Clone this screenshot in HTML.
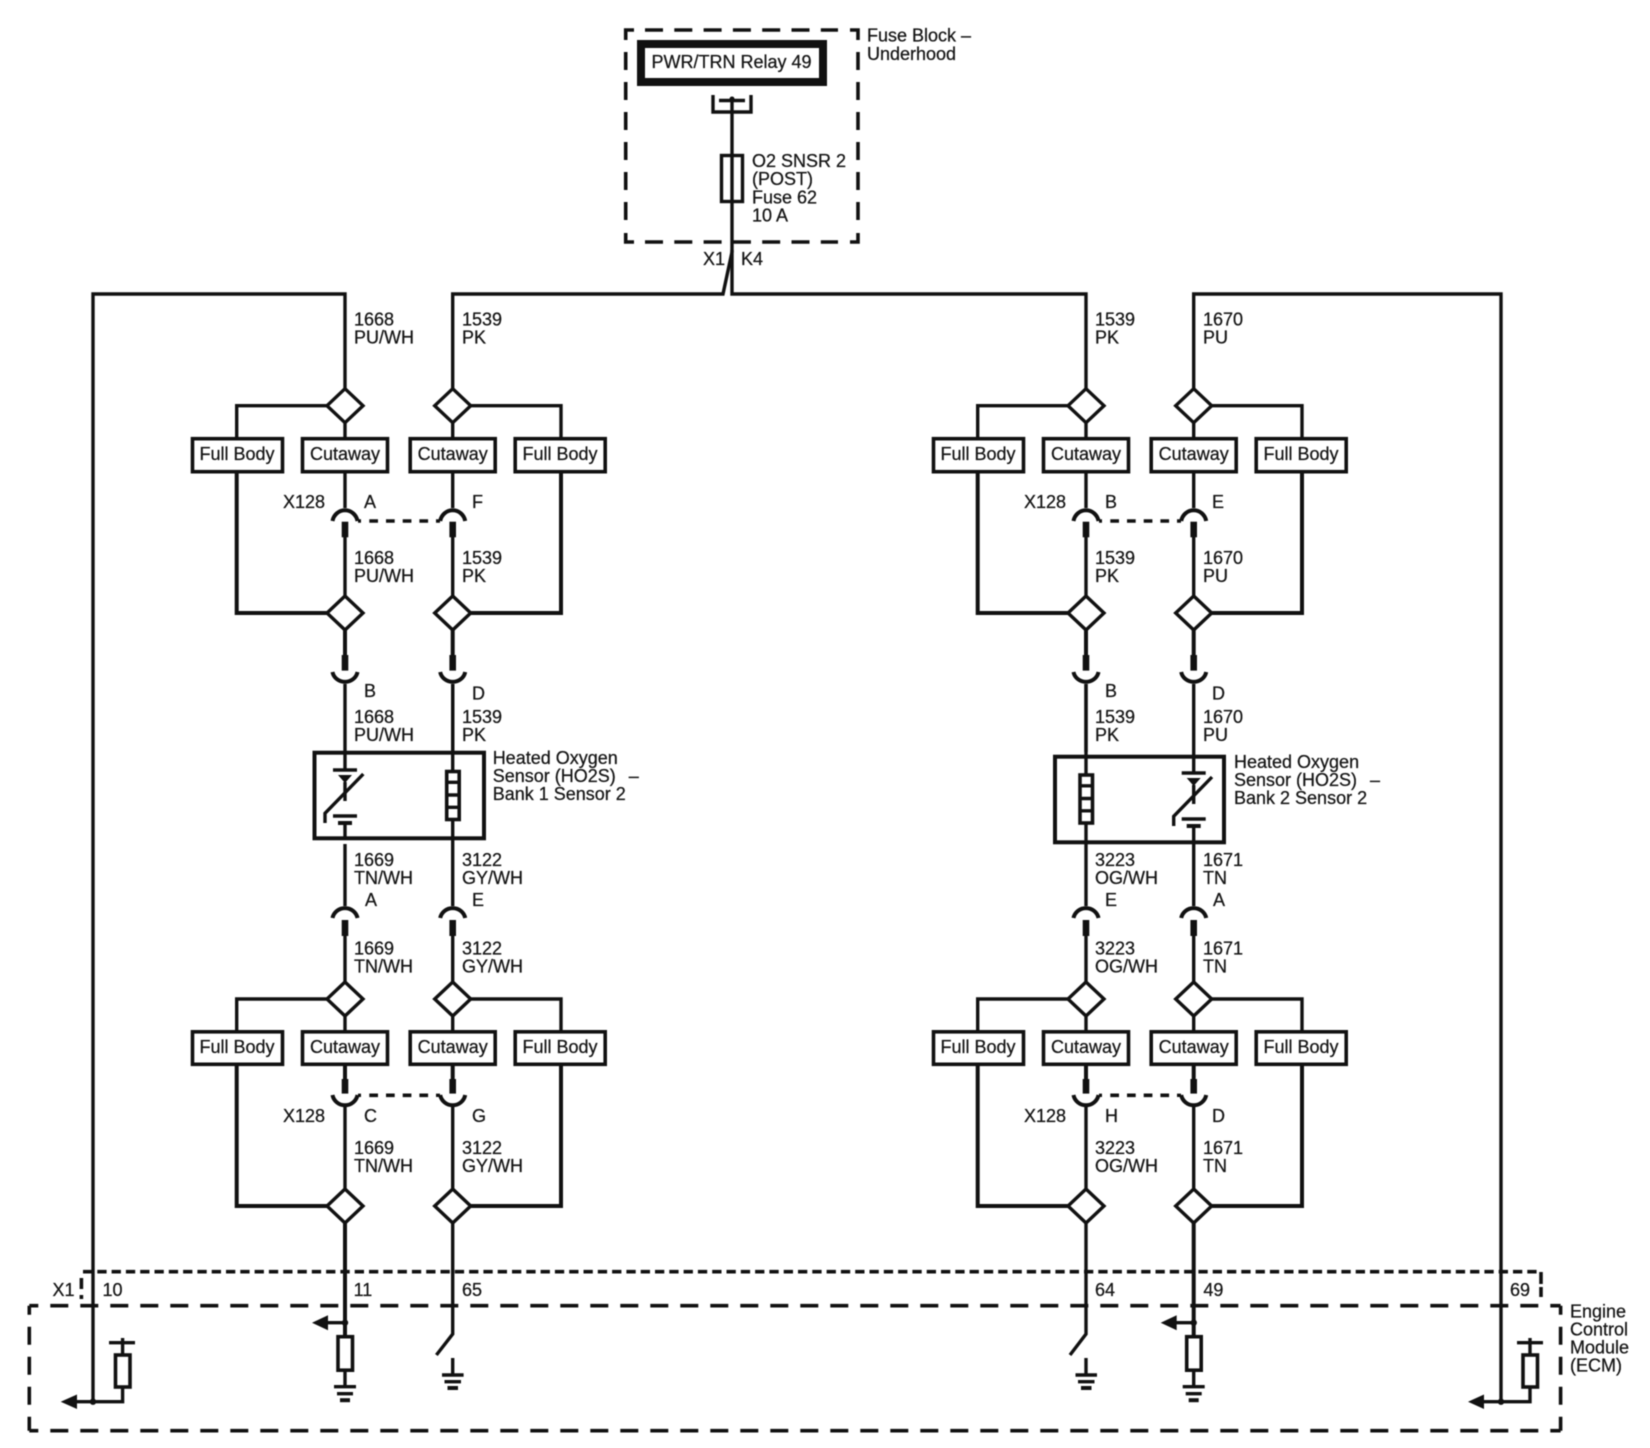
<!DOCTYPE html>
<html><head><meta charset="utf-8">
<style>
html,body{margin:0;padding:0;background:#fff;width:1650px;height:1448px;overflow:hidden}
svg{display:block;filter:blur(0.65px)}
text{font-family:"Liberation Sans",Arial,sans-serif;font-size:18px;fill:#151515;stroke:#151515;stroke-width:0.25}
.w{fill:none;stroke:#111;stroke-width:3.4}
.t{fill:none;stroke:#111;stroke-width:4}
.d{fill:#fff;stroke:#111;stroke-width:3.4}
.b{fill:#fff;stroke:#111;stroke-width:3.6}
.f{fill:#111;stroke:none}
.dash{fill:none;stroke:#111;stroke-width:3.6}
.m{text-anchor:middle}
</style></head><body>
<svg width="1650" height="1448" viewBox="0 0 1650 1448" xmlns="http://www.w3.org/2000/svg">
<defs>
<g id="chain">
  <path class="w" d="M345 422.7V437M327 405.7H236.7V437M345 473V508"/>
  <path class="t" d="M236.7 473V613H327"/>
  <polygon class="d" points="345,388.7 363,405.7 345,422.7 327,405.7"/>
  <rect class="b" x="192.5" y="438.7" width="90" height="33"/>
  <rect class="b" x="302.5" y="438.7" width="85" height="33"/>
  <path class="t" d="M332.5 521A12.7 13 0 0 1 357.5 521"/>
  <rect class="f" x="341.7" y="521.7" width="6.6" height="15.6"/>
  <path class="w" d="M345 537V597"/>
  <polygon class="d" points="345,596 363,613 345,630 327,613"/>
  <path class="t" d="M345 630V656"/>
  <rect class="f" x="341.7" y="655" width="6.6" height="15.6"/>
  <path class="t" d="M332.5 672A12.7 12 0 0 0 357.5 672"/>
  <path class="w" d="M345 684V752"/>
  <path class="t" d="M332.5 918A12.7 12 0 0 1 357.5 918"/>
  <rect class="f" x="341.7" y="920" width="6.6" height="16"/>
  <path class="w" d="M345 936V983"/>
  <path class="w" d="M327 999H236.7V1030M345 1016V1030"/>
  <polygon class="d" points="345,982 363,999 345,1016 327,999"/>
  <rect class="b" x="192.5" y="1031.8" width="90" height="32.5"/>
  <rect class="b" x="302.5" y="1031.8" width="85" height="32.5"/>
  <path class="t" d="M345 1066V1080"/>
  <rect class="f" x="341.7" y="1079" width="6.6" height="14.6"/>
  <path class="t" d="M332.5 1095A12.7 12.5 0 0 0 357.5 1095"/>
  <path class="w" d="M345 1107V1190"/>
  <path class="t" d="M236.7 1066V1206H327"/>
  <polygon class="d" points="345,1189 363,1206 345,1223 327,1206"/>
</g>
<g id="half">
  <use href="#chain"/>
  <use href="#chain" transform="matrix(-1 0 0 1 797.7 0)"/>
  <path class="dash" stroke-dasharray="8.7 8" d="M369.3 521H430"/>
  <path class="dash" stroke-dasharray="8.7 8" d="M369.3 1095.3H430"/>
  <path class="w" d="M358 521H361M436 521H440M358 1095.3H361M436 1095.3H440"/>
</g>
<g id="res">
  <path class="t" d="M0 0V14"/>
  <rect class="b" x="-7" y="14" width="14.5" height="33.5" fill="#fff"/>
  <path class="w" d="M0 47.5V64"/>
  <path class="w" d="M-11 64H11"/>
  <path class="w" d="M-8 71H8"/>
  <path class="t" d="M-5 77.5H5"/>
  <path class="w" d="M0 0H-18"/>
  <polygon class="f" points="-33,0 -17,-7.5 -17,7.5"/>
  <circle class="f" r="3.2"/>
</g>
<g id="oct">
  <path class="w" d="M-12 0H12"/>
  <polygon class="f" points="-7,5 7,5 0,13"/>
  <path class="w" d="M0 12V31"/>
  <path class="w" d="M18.3 4L-20 43.3V53"/>
  <path class="w" d="M-12 46H12"/>
  <path class="t" d="M-7 53H7"/>
</g>
<g id="ht">
  <rect class="b" x="-6" y="1.5" width="12.5" height="48"/>
  <path class="w" d="M-6 12.3H6M-6 25H6M-6 37.3H6"/>
</g>
</defs>

<!-- Fuse block -->
<path class="dash" stroke-dasharray="18 11.3" d="M645 30H838M645 242H838"/>
<path class="dash" stroke-dasharray="18 12" d="M625.7 52V222M858 52V222"/>
<path class="dash" d="M634 30H625.7V40M850 30H858V40M634 242H625.7V233M850 242H858V233"/>
<rect x="641" y="44" width="182" height="38" fill="#fff" stroke="#111" stroke-width="8"/>
<text x="651.5" y="68">PWR/TRN Relay 49</text>
<path class="w" d="M713 95V112H751V95M719 100.5H745M732 97V252L723 294H452.7V389"/>
<path class="w" d="M732 250V294H1086V389"/>
<circle class="f" cx="732" cy="99" r="2.5"/>
<rect class="d" x="721.5" y="155.5" width="21" height="46" style="fill:#fff"/>
<path class="w" d="M732 154V203"/>
<text x="752" y="167">O2 SNSR 2</text>
<text x="752" y="185">(POST)</text>
<text x="752" y="203.5">Fuse 62</text>
<text x="752" y="221.5">10 A</text>
<text x="867" y="41.5">Fuse Block –</text>
<text x="867" y="60">Underhood</text>
<text x="703" y="265">X1</text>
<text x="741" y="265">K4</text>

<!-- outer wires -->
<path class="w" d="M93 1402V294H345V389"/>
<path class="w" d="M1193.7 389V294H1501V1402"/>

<!-- ECM / X1 dashed boxes -->
<path class="dash" stroke-dasharray="9.3 5" d="M83 1271.7H1541"/>
<path class="dash" d="M81.4 1278V1289M81.4 1295V1299M1541 1272V1284M1541 1287V1297"/>
<path class="dash" stroke-dasharray="18 12" stroke-dashoffset="9" d="M29.3 1305.7H1560.6M29.3 1430.7H1560.6M29.3 1305.7V1430.7M1560.6 1305.7V1430.7"/>

<use href="#half"/>
<use href="#half" transform="translate(741 0)"/>

<!-- Bank 1 sensor -->
<rect class="b" x="314.5" y="752.7" width="169.5" height="85.6" style="stroke-width:4" fill="#fff"/>
<path class="w" d="M345 752V770"/>
<use href="#oct" transform="translate(345 770)"/>
<path class="w" d="M345 823V838M345 844V906"/>
<path class="w" d="M452.7 684V906"/>
<use href="#ht" transform="translate(452.7 770)"/>

<!-- Bank 2 sensor -->
<rect class="b" x="1055" y="756.7" width="169" height="85.6" style="stroke-width:4" fill="#fff"/>
<path class="w" d="M1086 684V906"/>
<use href="#ht" transform="translate(1086 773.5)"/>
<path class="w" d="M1193.7 752V773"/>
<use href="#oct" transform="translate(1193.7 773)"/>
<path class="w" d="M1193.7 826V906"/>

<!-- ECM internals -->
<path class="t" d="M345 1223V1323"/>
<use href="#res" transform="translate(345 1322.7)"/>
<path class="t" d="M1193.7 1223V1323"/>
<use href="#res" transform="translate(1193.7 1322.7)"/>
<path class="w" d="M452.7 1223V1334L436.4 1355"/>
<path class="w" d="M1086 1223V1334L1070 1355"/>
<path class="w" d="M452.7 1358V1375M442 1375H463.6M444.5 1381.7H461"/>
<path class="t" d="M447.5 1388H458"/>
<path class="w" d="M1086 1358V1375M1075.5 1375H1097M1078 1381.7H1094.5"/>
<path class="t" d="M1081 1388H1091.5"/>

<!-- outer sensors -->
<path class="w" d="M122.6 1338V1354M109 1342.7H135M122.6 1387V1401.7H76"/>
<rect class="b" x="115.5" y="1355" width="14.5" height="32"/>
<polygon class="f" points="60.7,1401.7 77,1394.5 77,1409"/>
<circle class="f" cx="93" cy="1401.7" r="3.2"/>
<path class="w" d="M1530 1338V1354M1517 1342.7H1543M1530 1387V1401.7H1484"/>
<rect class="b" x="1523" y="1355" width="14.5" height="32"/>
<polygon class="f" points="1468,1401.7 1484,1394.5 1484,1409"/>
<circle class="f" cx="1501" cy="1401.7" r="3.2"/>

<!-- labels: wires -->
<text x="354" y="325.5">1668</text><text x="354" y="343.5">PU/WH</text>
<text x="462" y="325.5">1539</text><text x="462" y="343.5">PK</text>
<text x="1095" y="325.5">1539</text><text x="1095" y="343.5">PK</text>
<text x="1203" y="325.5">1670</text><text x="1203" y="343.5">PU</text>

<text x="354" y="564">1668</text><text x="354" y="582">PU/WH</text>
<text x="462" y="564">1539</text><text x="462" y="582">PK</text>
<text x="1095" y="564">1539</text><text x="1095" y="582">PK</text>
<text x="1203" y="564">1670</text><text x="1203" y="582">PU</text>

<text x="354" y="723">1668</text><text x="354" y="741">PU/WH</text>
<text x="462" y="723">1539</text><text x="462" y="741">PK</text>
<text x="1095" y="723">1539</text><text x="1095" y="741">PK</text>
<text x="1203" y="723">1670</text><text x="1203" y="741">PU</text>

<text x="354" y="866">1669</text><text x="354" y="884">TN/WH</text>
<text x="462" y="866">3122</text><text x="462" y="884">GY/WH</text>
<text x="1095" y="866">3223</text><text x="1095" y="884">OG/WH</text>
<text x="1203" y="866">1671</text><text x="1203" y="884">TN</text>

<text x="354" y="954.5">1669</text><text x="354" y="972.5">TN/WH</text>
<text x="462" y="954.5">3122</text><text x="462" y="972.5">GY/WH</text>
<text x="1095" y="954.5">3223</text><text x="1095" y="972.5">OG/WH</text>
<text x="1203" y="954.5">1671</text><text x="1203" y="972.5">TN</text>

<text x="354" y="1154">1669</text><text x="354" y="1172">TN/WH</text>
<text x="462" y="1154">3122</text><text x="462" y="1172">GY/WH</text>
<text x="1095" y="1154">3223</text><text x="1095" y="1172">OG/WH</text>
<text x="1203" y="1154">1671</text><text x="1203" y="1172">TN</text>

<!-- boxes text -->
<text class="m" x="237" y="460">Full Body</text><text class="m" x="345" y="460">Cutaway</text>
<text class="m" x="452.7" y="460">Cutaway</text><text class="m" x="560" y="460">Full Body</text>
<text class="m" x="978" y="460">Full Body</text><text class="m" x="1086" y="460">Cutaway</text>
<text class="m" x="1193.7" y="460">Cutaway</text><text class="m" x="1301" y="460">Full Body</text>

<text class="m" x="237" y="1053">Full Body</text><text class="m" x="345" y="1053">Cutaway</text>
<text class="m" x="452.7" y="1053">Cutaway</text><text class="m" x="560" y="1053">Full Body</text>
<text class="m" x="978" y="1053">Full Body</text><text class="m" x="1086" y="1053">Cutaway</text>
<text class="m" x="1193.7" y="1053">Cutaway</text><text class="m" x="1301" y="1053">Full Body</text>

<!-- connector labels -->
<text x="283" y="508">X128</text><text x="364" y="508">A</text><text x="472" y="508">F</text>
<text x="1024" y="508">X128</text><text x="1105" y="508">B</text><text x="1212" y="508">E</text>
<text x="364" y="697">B</text><text x="472" y="699.5">D</text>
<text x="1105" y="697">B</text><text x="1212" y="699.5">D</text>
<text x="365" y="906">A</text><text x="472" y="906">E</text>
<text x="1105" y="906">E</text><text x="1213" y="906">A</text>
<text x="283" y="1122">X128</text><text x="364" y="1122">C</text><text x="472" y="1122">G</text>
<text x="1024" y="1122">X128</text><text x="1105" y="1122">H</text><text x="1212" y="1122">D</text>

<!-- sensor labels -->
<text x="492.7" y="764">Heated Oxygen</text>
<text x="492.7" y="782">Sensor (HO2S)<tspan dx="13">–</tspan></text>
<text x="492.7" y="800">Bank 1 Sensor 2</text>
<text x="1234" y="768">Heated Oxygen</text>
<text x="1234" y="786">Sensor (HO2S)<tspan dx="13">–</tspan></text>
<text x="1234" y="804">Bank 2 Sensor 2</text>

<!-- ECM labels -->
<text x="52.5" y="1296">X1</text>
<text x="102.5" y="1296">10</text>
<text x="353.6" y="1296">11</text>
<text x="462" y="1296">65</text>
<text x="1095" y="1296">64</text>
<text x="1203.4" y="1296">49</text>
<text x="1510" y="1296">69</text>
<text x="1570" y="1317.7">Engine</text>
<text x="1570" y="1335.5">Control</text>
<text x="1570" y="1353.5">Module</text>
<text x="1570" y="1371.5">(ECM)</text>
</svg>
</body></html>
